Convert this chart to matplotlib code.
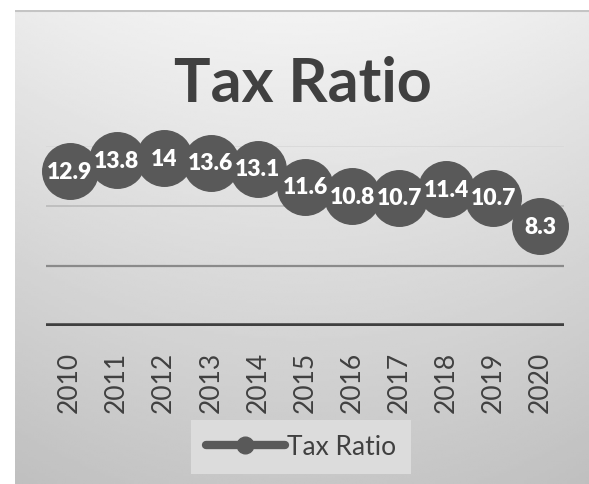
import numpy as np
import matplotlib.pyplot as plt
from matplotlib.lines import Line2D

years = ["2010", "2011", "2012", "2013", "2014", "2015",
         "2016", "2017", "2018", "2019", "2020"]
tax_ratio = [12.9, 13.8, 14, 13.6, 13.1, 11.6, 10.8, 10.7, 11.4, 10.7, 8.3]
y_ticks = [0, 5, 10, 15]

W, H, DPI = 589, 485, 100
FONT = "Lato"
DARK = "#595959"

fig = plt.figure(figsize=(W / DPI, H / DPI), dpi=DPI)
fig.patch.set_facecolor("white")

# chart frame with soft gray gradient (light top -> darker bottom)
bg = fig.add_axes([15 / W, 0, 1 - 15 / W, (H - 11) / H])
yy, xx = np.mgrid[0:1:200j, 0:1:200j]
shade = 0.95 - 0.17 * yy - 0.03 * (2 * np.abs(xx - 0.5)) ** 2
bg.imshow(shade, cmap="gray", vmin=0, vmax=1, aspect="auto",
          extent=[0, 1, 1, 0], interpolation="bilinear")
bg.plot([0, 1], [0.002, 0.002], color="#c4c4c4", lw=1.5)
bg.set_xlim(0, 1)
bg.set_ylim(1, 0)
bg.axis("off")

# plot area
ax = fig.add_axes([46 / W, (H - 327) / H, 518 / W, 180 / H])
ax.set_facecolor("none")
x = np.arange(len(years))
ax.set_xlim(-0.5, len(years) - 0.5)
ax.set_ylim(0, 15)

grid_styles = {0: ("#3f3f3f", 4.0), 5: ("#8a8a8a", 1.6),
               10: ("#bdbdbd", 1.3), 15: ("#d8d8d8", 1.2)}
for v in y_ticks:
    c, lw = grid_styles[v]
    ax.axhline(v, color=c, lw=lw, zorder=1)

ax.plot(x, tax_ratio, color=DARK, lw=4, marker="o", markersize=40,
        markerfacecolor=DARK, markeredgecolor=DARK, zorder=3, clip_on=False)

for xi, v in zip(x, tax_ratio):
    ax.text(xi, v, f"{v:g}", ha="center", va="center", color="white",
            fontsize=16.5, fontweight="heavy", family=FONT, zorder=4)

ax.set_xticks(x)
ax.set_xticklabels(years, rotation=90, fontsize=19, color="#404040", family=FONT)
ax.tick_params(axis="x", length=0, pad=18)
ax.set_yticks([])
for s in ax.spines.values():
    s.set_visible(False)

fig.text(303 / W, 1 - 84 / H, "Tax Ratio", ha="center", va="center",
         fontsize=44, fontweight="bold", color="#404040", family=FONT)

# legend
handle = Line2D([], [], color=DARK, lw=6, solid_capstyle="round",
                marker="o", markersize=12, markerfacecolor=DARK,
                markeredgecolor=DARK)
leg = ax.legend([handle], ["Tax Ratio"], loc="center",
                bbox_to_anchor=(301 / W, 1 - 448 / H),
                bbox_transform=fig.transFigure, frameon=True, fancybox=False,
                prop={"family": FONT, "size": 19}, handlelength=3.0,
                handletextpad=0.1, borderpad=0.55, borderaxespad=0)
leg.get_frame().set_facecolor("#dcdcdc")
leg.get_frame().set_edgecolor("none")
leg.get_frame().set_alpha(1)
for t in leg.get_texts():
    t.set_color("#404040")

fig.savefig("out.png", dpi=DPI)
